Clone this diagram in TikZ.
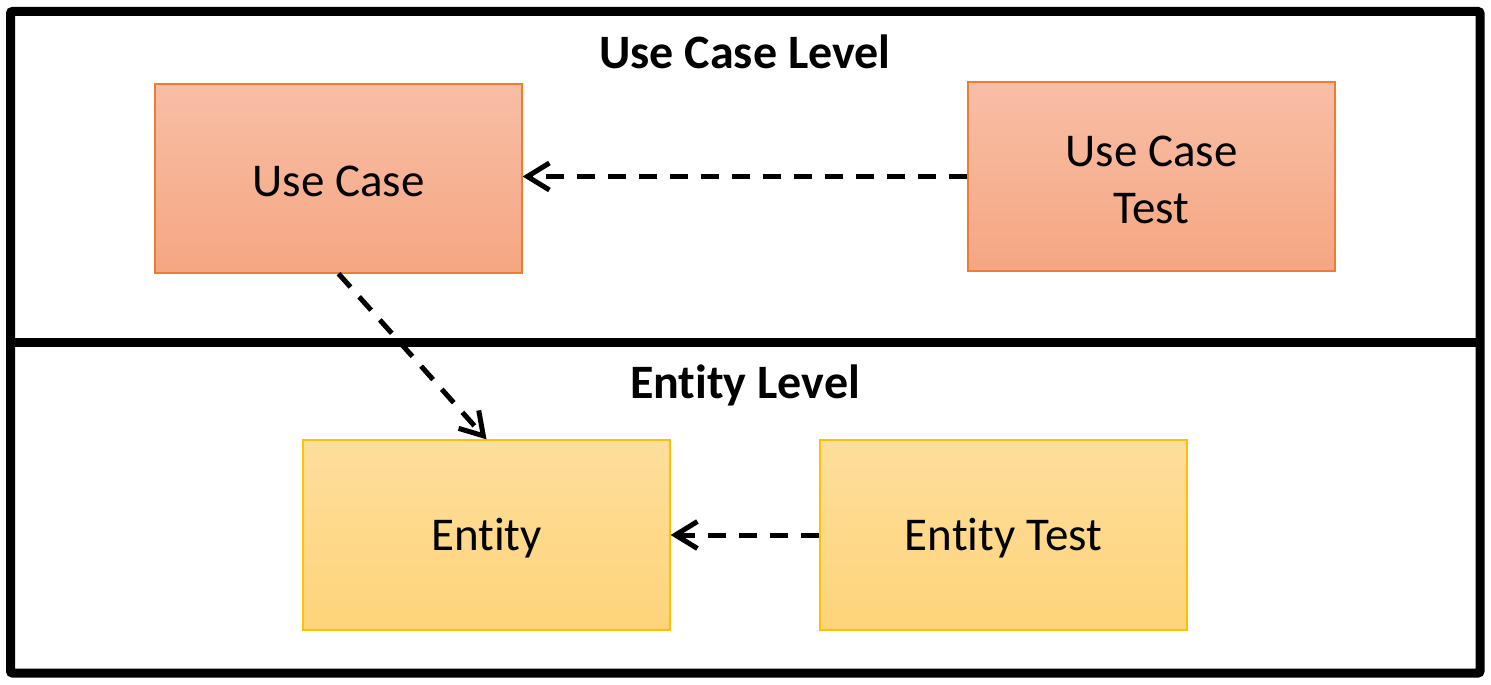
\documentclass[tikz,border=0pt]{standalone}
\usepackage{fontspec}
\setmainfont[Ligatures=NoCommon]{Carlito}
\usetikzlibrary{arrows.meta}
\definecolor{ucTop}{RGB}{248,190,166}
\definecolor{ucBot}{RGB}{245,166,130}
\definecolor{ucLine}{RGB}{237,125,49}
\definecolor{enTop}{RGB}{254,222,156}
\definecolor{enBot}{RGB}{254,212,122}
\definecolor{enLine}{RGB}{255,192,0}
\tikzset{
  boxtext/.style={align=center, inner sep=0pt, yshift=-3pt,
    font=\fontsize{47}{57}\selectfont},
  ucbox/.style={draw=ucLine, line width=1.3pt, top color=ucTop, bottom color=ucBot,
    minimum width=367pt, minimum height=189pt, inner sep=0pt},
  enbox/.style={draw=enLine, line width=1.3pt, top color=enTop, bottom color=enBot,
    minimum width=367pt, minimum height=190pt, inner sep=0pt},
  leveltitle/.style={font=\fontsize{48}{58}\selectfont\bfseries, inner sep=0pt},
  frameline/.style={line width=9pt, black},
  deparrow/.style={line width=5pt, dash pattern=on 18pt off 13pt,
    -{Straight Barb[length=22pt, width=27pt, line width=5pt]}},
}
\begin{document}
\begin{tikzpicture}[x=1pt, y=-1pt]
\useasboundingbox (0,0) rectangle (1491,685);
% frame
\draw[frameline, rounded corners=2pt] (10.5,11.5) rectangle (1480,673);
\draw[frameline] (10.5,342) -- (1480,342);
% titles
\node[leveltitle] (t1) at (745,52) {Use Case Level};
\node[leveltitle] (t2) at (745,385) {Entity Level};
% boxes
\node[ucbox, label={[boxtext]center:Use Case}] (uc) at (338.5,178.5) {};
\node[ucbox, label={[boxtext]center:Use Case\\Test}] (uct) at (1151.5,176.5) {};
\node[enbox, label={[boxtext]center:Entity}] (en) at (486.5,535) {};
\node[enbox, label={[boxtext]center:Entity Test}] (ent) at (1003.5,535) {};
% connectors
\draw[deparrow] (uct.west) -- (uc.east |- uct.west);
\draw[deparrow] (ent.west) -- (en.east);
\draw[deparrow] (uc.south) -- (en.north);
\end{tikzpicture}
\end{document}
